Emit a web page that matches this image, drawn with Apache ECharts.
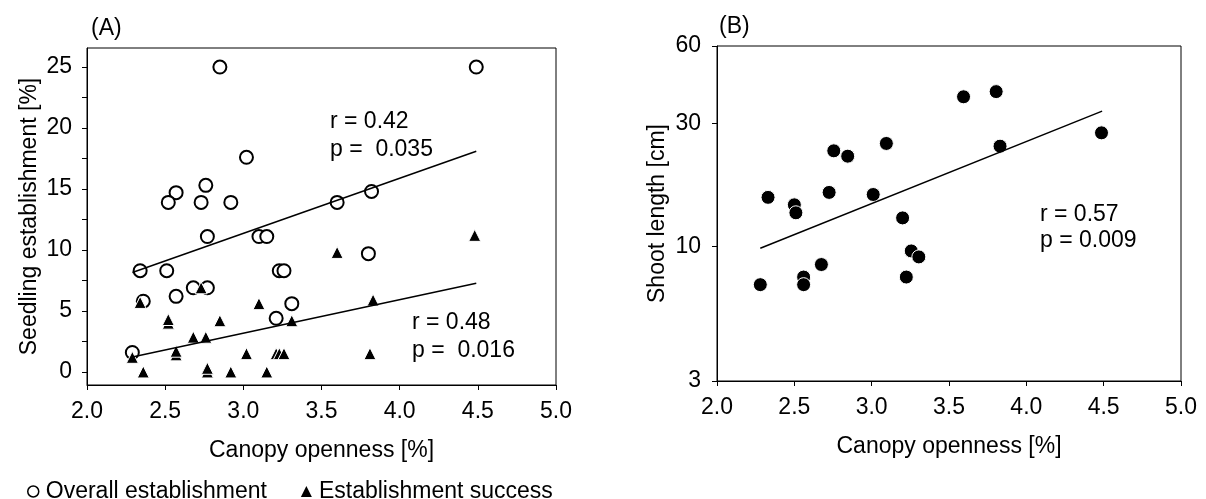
<!DOCTYPE html>
<html>
<head>
<meta charset="utf-8">
<script src="https://cdn.jsdelivr.net/npm/echarts@6/dist/echarts.min.js"></script>
<style>
  html, body { margin: 0; padding: 0; background: #fff; }
  #chart { width: 1206px; height: 499px; }
</style>
</head>
<body>
<div id="chart"></div>
<script>
// panel A: overall establishment (open circles)
const overallX = [2.85, 4.49, 3.02, 2.76, 2.57, 2.52, 2.73, 2.92, 3.60, 3.82, 2.77, 3.10, 3.15,
  2.34, 2.51, 3.23, 3.26, 3.80, 2.68, 2.77, 2.36, 2.57, 3.31, 3.21, 2.29];
const overallY = [25.0, 25.0, 17.6, 15.3, 14.7, 13.9, 13.9, 13.9, 13.9, 14.8, 11.1, 11.1, 11.1,
  8.3, 8.3, 8.3, 8.3, 9.7, 6.9, 6.9, 5.8, 6.2, 5.6, 4.4, 1.6];
// panel A: establishment success (filled triangles)
const successX = [2.29, 2.34, 2.36, 2.52, 2.52, 2.57, 2.57, 2.68, 2.73, 2.76, 2.77, 2.77, 2.85,
  2.92, 3.02, 3.10, 3.15, 3.21, 3.23, 3.26, 3.31, 3.60, 3.81, 3.83, 4.48];
const successY = [1.2, 5.7, 0, 4.0, 4.3, 1.4, 1.7, 2.85, 6.9, 2.85, 0, 0.3, 4.2,
  0, 1.5, 5.6, 0, 1.5, 1.5, 1.5, 4.2, 9.8, 1.5, 5.9, 11.2];
// regression lines, panel A
const fitOverallX = [2.29, 4.49];
const fitOverallY = [8.15, 18.1];
const fitSuccessX = [2.29, 4.49];
const fitSuccessY = [1.23, 7.27];

// panel B: shoot length
const shootX = [2.28, 2.33, 2.50, 2.51, 2.56, 2.56, 2.675, 2.725, 2.755, 2.845, 3.01, 3.095,
  3.20, 3.256, 3.305, 3.224, 3.594, 3.805, 3.83, 4.486];
const shootY = [7.1, 15.5, 14.5, 13.5, 7.6, 7.1, 8.5, 16.2, 23.5, 22.4, 15.9, 25.1,
  12.9, 9.6, 9.1, 7.6, 38.1, 39.9, 24.5, 27.6];
const fitShootX = [2.28, 4.49];
const fitShootY = [9.83, 33.5];

const yLabelsA = [0, 5, 10, 15, 20, 25];
const yTicksA = [0, 2.5, 5, 7.5, 10, 12.5, 15, 17.5, 20, 22.5, 25];
const yTicksB = [3, 10, 30, 60];

const zip = (xs, ys) => xs.map((x, i) => [x, ys[i]]);

const FONT = 'Liberation Sans, Arial, sans-serif';
const FS = 23;
const black = '#000';

const chart = echarts.init(document.getElementById('chart'));

function xAxisCfg(gridIndex) {
  return {
    type: 'value', gridIndex: gridIndex,
    min: 2, max: 5, interval: 0.5,
    name: 'Canopy openness [%]', nameLocation: 'middle', nameGap: 54,
    nameTextStyle: { color: black, fontSize: FS, fontFamily: FONT },
    axisLine: { onZero: false, lineStyle: { color: black, width: 1 } },
    axisTick: { show: true, length: 5, lineStyle: { color: black } },
    axisLabel: { color: black, fontSize: FS, fontFamily: FONT, margin: 15,
      formatter: v => v.toFixed(1) },
    splitLine: { show: false }
  };
}

const option = {
  animation: false,
  textStyle: { fontFamily: FONT },
  title: [
    { text: '(A)', left: 86, top: 12, textStyle: { fontSize: FS, fontWeight: 'normal', color: black, fontFamily: FONT } },
    { text: '(B)', left: 714, top: 10, textStyle: { fontSize: FS, fontWeight: 'normal', color: black, fontFamily: FONT } }
  ],
  legend: {
    left: 22, top: 475,
    itemWidth: 11, itemHeight: 11, itemGap: 34,
    textStyle: { color: black, fontSize: FS, fontFamily: FONT, padding: [0, 0, 0, 2] },
    data: [
      { name: 'Overall establishment', itemStyle: { borderWidth: 1.5 } },
      { name: 'Establishment success', itemStyle: { borderWidth: 0 } }
    ]
  },
  grid: [
    { left: 87, right: 650, top: 48, bottom: 114, show: true, borderColor: black, borderWidth: 1, backgroundColor: 'transparent' },
    { left: 717, right: 25, top: 46, bottom: 118, show: true, borderColor: black, borderWidth: 1, backgroundColor: 'transparent' }
  ],
  xAxis: [xAxisCfg(0), xAxisCfg(1)],
  yAxis: [
    {
      type: 'value', gridIndex: 0,
      min: -1.07, max: 26.56,
      name: 'Seedling establishment [%]', nameLocation: 'middle', nameGap: 46,
      nameTextStyle: { color: black, fontSize: FS, fontFamily: FONT },
      axisLine: { show: true, onZero: false, lineStyle: { color: black, width: 1 } },
      axisTick: { show: true, length: 5, customValues: yTicksA, lineStyle: { color: black } },
      axisLabel: { color: black, fontSize: FS, fontFamily: FONT, margin: 15, customValues: yLabelsA },
      splitLine: { show: false }
    },
    {
      type: 'log', logBase: 10, gridIndex: 1,
      min: 3, max: 60,
      name: 'Shoot length [cm]', nameLocation: 'middle', nameGap: 48,
      nameTextStyle: { color: black, fontSize: FS, fontFamily: FONT },
      axisLine: { show: true, onZero: false, lineStyle: { color: black, width: 1 } },
      axisTick: { show: true, length: 5, customValues: yTicksB, lineStyle: { color: black } },
      axisLabel: { color: black, fontSize: FS, fontFamily: FONT, margin: 16, customValues: yTicksB },
      minorTick: { show: false },
      splitLine: { show: false }
    }
  ],
  series: [
    {
      type: 'line', xAxisIndex: 0, yAxisIndex: 0, data: zip(fitOverallX, fitOverallY),
      symbol: 'none', silent: true, lineStyle: { color: black, width: 1.5 }
    },
    {
      type: 'line', xAxisIndex: 0, yAxisIndex: 0, data: zip(fitSuccessX, fitSuccessY),
      symbol: 'none', silent: true, lineStyle: { color: black, width: 1.5 }
    },
    {
      name: 'Overall establishment', type: 'scatter', xAxisIndex: 0, yAxisIndex: 0,
      data: zip(overallX, overallY), symbol: 'circle', symbolSize: 13,
      itemStyle: { color: '#fff', borderColor: black, borderWidth: 2, opacity: 1 }
    },
    {
      name: 'Establishment success', type: 'scatter', xAxisIndex: 0, yAxisIndex: 0,
      data: zip(successX, successY), symbol: 'triangle', symbolSize: 12,
      itemStyle: { color: black, borderColor: '#fff', borderWidth: 1, opacity: 1 }
    },
    {
      type: 'line', xAxisIndex: 1, yAxisIndex: 1, data: zip(fitShootX, fitShootY),
      symbol: 'none', silent: true, lineStyle: { color: black, width: 1.5 }
    },
    {
      name: 'Shoot length', type: 'scatter', xAxisIndex: 1, yAxisIndex: 1,
      data: zip(shootX, shootY), symbol: 'circle', symbolSize: 14,
      itemStyle: { color: black, borderColor: '#fff', borderWidth: 1, opacity: 1 }
    }
  ],
  graphic: [
    { type: 'text', left: 330, top: 108, style: { text: 'r = 0.42\np =  0.035', fill: black, fontSize: FS, fontFamily: FONT, lineHeight: 28 } },
    { type: 'text', left: 412, top: 309, style: { text: 'r = 0.48\np =  0.016', fill: black, fontSize: FS, fontFamily: FONT, lineHeight: 28 } },
    { type: 'text', left: 1040, top: 202, style: { text: 'r = 0.57\np = 0.009', fill: black, fontSize: FS, fontFamily: FONT, lineHeight: 26 } }
  ]
};

chart.setOption(option);
</script>
</body>
</html>
